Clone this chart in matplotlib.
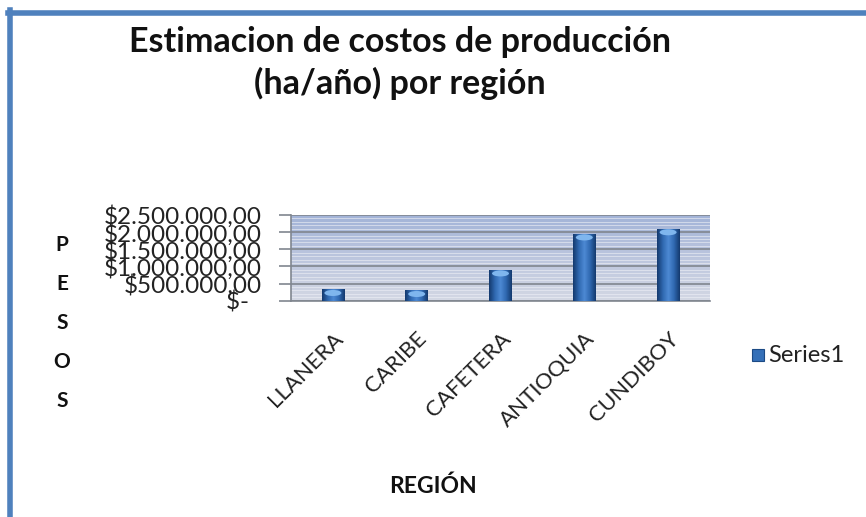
import numpy as np
import matplotlib
matplotlib.use("Agg")
import matplotlib.pyplot as plt
from matplotlib.ticker import FuncFormatter, MultipleLocator
from matplotlib.colors import LinearSegmentedColormap
from matplotlib.patches import Rectangle, Ellipse

regions = ["LLANERA", "CARIBE", "CAFETERA", "ANTIOQUIA", "CUNDIBOY"]
costs = [330000, 300000, 900000, 1950000, 2100000]
yticks = [0, 500000, 1000000, 1500000, 2000000, 2500000]
title = "Estimacion de costos de producción\n(ha/año) por región"
series_name = "Series1"

FONT = ["Lato", "DejaVu Sans"]
plt.rcParams["font.family"] = FONT

fig = plt.figure(figsize=(8.66, 5.17), dpi=100)
fig.patch.set_facecolor("white")

# outer blue frame (top and left visible)
fig.add_artist(plt.Line2D([9.5/866, 9.5/866], [0, 1 - 10/517], color="#4f81bd", lw=4, transform=fig.transFigure))
fig.add_artist(plt.Line2D([8/866, 1], [1 - 12.5/517, 1 - 12.5/517], color="#4f81bd", lw=4, transform=fig.transFigure))

ax = fig.add_axes([291/866, 1 - 300.7/517, (710 - 291)/866, (300.7 - 215)/517])

x = np.arange(len(regions))
ax.set_xlim(-0.5, len(regions) - 0.5)
ax.set_ylim(0, 2500000)

# background gradient
grad = np.linspace(0, 1, 256).reshape(-1, 1)
bg_cmap = LinearSegmentedColormap.from_list("bg", ["#d4d8e4", "#bcc6de", "#a3b4d8"])
ax.imshow(grad, extent=[0, 1, 0, 1], transform=ax.transAxes, cmap=bg_cmap,
          aspect="auto", origin="lower", zorder=0)

# fine stripes
ax.yaxis.set_minor_locator(MultipleLocator(100000))
ax.grid(which="minor", axis="y", color="#eef0f6", lw=0.7, alpha=0.6, zorder=1)
ax.grid(which="major", axis="y", color="#80868f", lw=1.2, zorder=1.5)

bars = ax.bar(x, costs, width=0.27, color="#2f66ac", zorder=3)
bar_cmap = LinearSegmentedColormap.from_list("bar", ["#143a6e", "#2f68b0", "#4d8ad4", "#2f68b0", "#143a6e"])
hgrad = np.linspace(0, 1, 64).reshape(1, -1)
for b in bars:
    bx, by, bw, bh = b.get_x(), b.get_y(), b.get_width(), b.get_height()
    im = ax.imshow(hgrad, extent=[bx, bx + bw, by, by + bh], cmap=bar_cmap,
                   aspect="auto", zorder=4)
    im.set_clip_path(b)
    cap_h = 2500000 * 0.07
    ax.add_patch(Ellipse((bx + bw / 2, by + bh - cap_h * 0.6), bw * 0.75, cap_h,
                         color="#7fb6ee", zorder=5, lw=0))

ax.set_yticks(yticks)

def fmt(v, pos):
    if v == 0:
        return "$-  "
    s = f"{int(v):,}".replace(",", ".")
    return f"${s},00"

ax.yaxis.set_major_formatter(FuncFormatter(fmt))
ax.tick_params(axis="y", which="major", length=9, width=1.2, color="#80868f",
               labelsize=17.5, pad=12, labelcolor="#222222")
ax.tick_params(axis="y", which="minor", length=0)
ax.set_xticks(x)
ax.set_xticklabels(regions, rotation=45, ha="right", rotation_mode="anchor",
                   fontsize=16, color="#222222")
ax.tick_params(axis="x", length=0, pad=20)

for s in ["top", "right"]:
    ax.spines[s].set_visible(False)
ax.spines["left"].set_color("#80868f")
ax.spines["bottom"].set_color("#80868f")
ax.spines["left"].set_linewidth(1.2)
ax.spines["bottom"].set_linewidth(1.2)

# title
fig.text(400/866, 1 - 63/517, title, ha="center", va="center", fontsize=24.5,
         fontweight="bold", linespacing=1.35, color="#111111")

# y label stacked letters
for i, ch in enumerate("PESOS"):
    fig.text(62/866, 1 - (245 + 39 * i)/517, ch, ha="center", va="center",
             fontsize=15, fontweight="bold", color="#111111")

# x label
fig.text(433/866, 1 - 486/517, "REGIÓN", ha="center", va="center",
         fontsize=16.5, fontweight="bold", color="#111111")

# legend
fig.add_artist(Rectangle((752/866, 1 - 361/517), 12/866, 12/517, transform=fig.transFigure,
                         facecolor="#3570b8", edgecolor="#1c4a85", lw=0.8))
fig.text(768/866, 1 - 355/517, series_name, ha="left", va="center", fontsize=17,
         color="#222222")

fig.savefig("out.png", dpi=100)
